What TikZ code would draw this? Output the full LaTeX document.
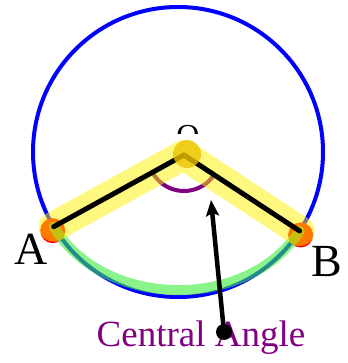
\documentclass[tikz,border=0pt]{standalone}
\usepackage{fontspec}
\setmainfont{Liberation Serif}
\usetikzlibrary{arrows.meta, calc}
\definecolor{cBlue}{RGB}{0,0,255}
\definecolor{cPurple}{RGB}{128,0,128}
\definecolor{cGreen}{RGB}{60,235,60}
\definecolor{cGold}{RGB}{235,195,0}
\tikzset{
	ptdot/.style={circle, fill=red, minimum size=25pt, inner sep=0pt},
	vertexdot/.style={circle, fill=cGold, fill opacity=0.8, minimum size=28pt, inner sep=0pt},
	arrowdot/.style={circle, fill=black, minimum size=16pt, inner sep=0pt},
	ptlabel/.style={font=\fontsize{46}{50}\selectfont, text=black, inner sep=0pt},
	radius line/.style={line width=5pt, line cap=round, black},
	highlight/.style={line width=30pt, line cap=round, line join=round, yellow, opacity=0.5},
}
\begin{document}
\begin{tikzpicture}[x=1pt, y=1pt]
	\useasboundingbox (0,0) rectangle (347,363);
	% circle and its points
	\coordinate (ctr) at (178,211);
	\draw[cBlue, line width=4pt] (ctr) circle[radius=145];
	\coordinate (A) at ($(ctr)+(211:145)$);
	\coordinate (B) at ($(ctr)+(327:145)$);
	\coordinate (O) at (184,208);
	\node[ptdot] (dA) at ($(A)+(-1,-4)$) {};
	\node[ptdot] (dB) at ($(B)+(1,-4)$) {};
	% intercepted arc
	\draw[cGreen, line width=10pt, opacity=0.6, line cap=round]
		(A) .. controls (102,55) and (246,50) .. (B);
	% angle mark
	\draw[cPurple, line width=4pt] ($(O)+(210:36)$) arc[start angle=210, end angle=327, radius=36];
	% highlighted radii
	\draw[highlight] (A) -- (O) -- (B);
	\draw[radius line] (A) -- (O);
	\draw[radius line] (O) -- (B);
	% centre label, partly hidden
	\begin{scope}
		\clip (150,229) rectangle (220,260);
		\node[font=\fontsize{32}{34}\selectfont, inner sep=0pt] (lO) at (188,227) {O};
	\end{scope}
	\node[vertexdot] (dO) at (187,209) {};
	% point labels
	\node[ptlabel] (lA) at (31,114) {A};
	\node[ptlabel] (lB) at (327,101) {B};
	% caption and pointer
	\node[font=\fontsize{37}{40}\selectfont, text=cPurple, inner sep=0pt] (cap) at (201,25) {Central Angle};
	\coordinate (tip) at (211,163);
	\node[arrowdot] (cdot) at (224,31) {};
	\draw[line width=4.5pt, -{Stealth[length=16pt, width=13pt, inset=3pt]}] (cdot.center) -- (tip);
\end{tikzpicture}
\end{document}
